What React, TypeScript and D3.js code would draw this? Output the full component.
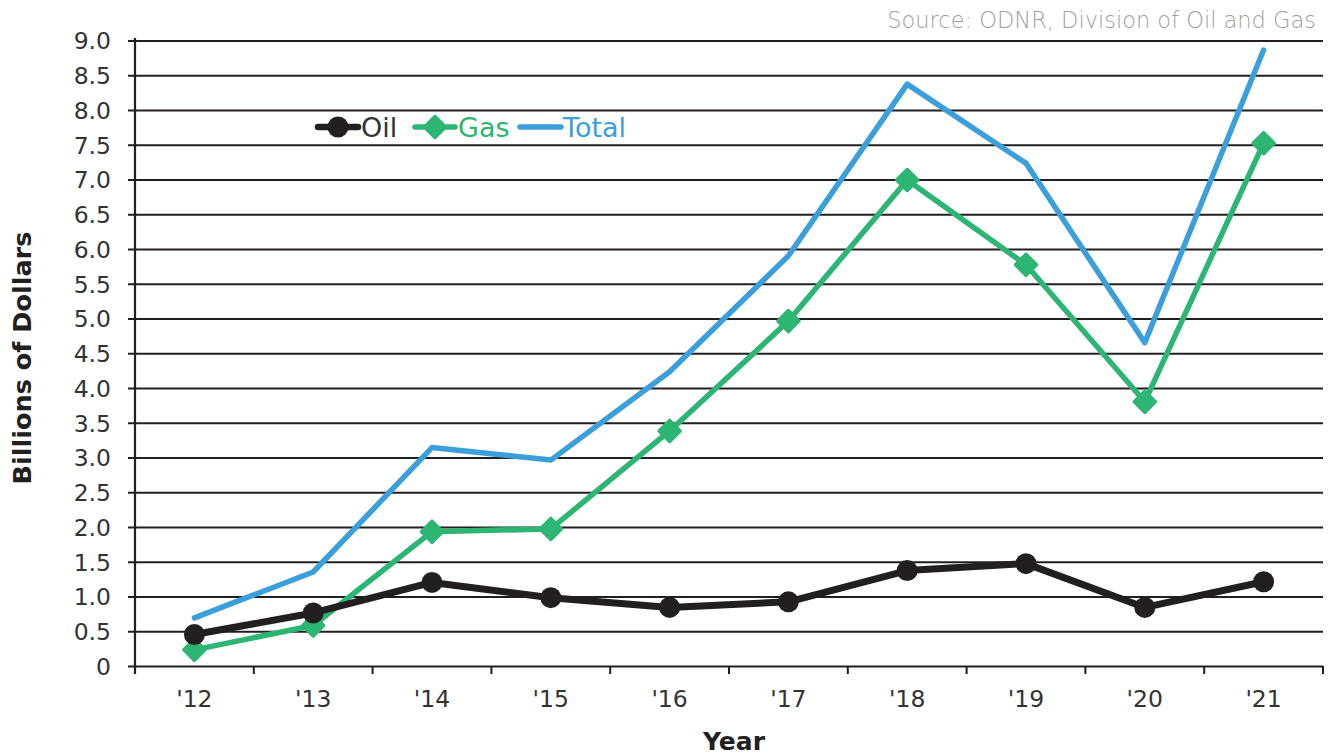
import React from "react";
import * as d3 from "d3";

const years = ["'12", "'13", "'14", "'15", "'16", "'17", "'18", "'19", "'20", "'21"];
const oil = [0.46, 0.77, 1.21, 0.99, 0.85, 0.93, 1.38, 1.48, 0.85, 1.22];
const gas = [0.24, 0.59, 1.94, 1.98, 3.39, 4.97, 7.0, 5.78, 3.81, 7.53];
const total = [0.7, 1.36, 3.15, 2.97, 4.24, 5.91, 8.38, 7.24, 4.66, 8.87];
const yTicks = [0, 0.5, 1, 1.5, 2, 2.5, 3, 3.5, 4, 4.5, 5, 5.5, 6, 6.5, 7, 7.5, 8, 8.5, 9];

const W = 1328;
const H = 755;
const FONT = "'DejaVu Sans', sans-serif";
const BLACK = "#231f20";
const GREEN = "#2db673";
const BLUE = "#3a9fdb";

export default function App() {
  const x = d3.scaleBand<string>().domain(years).range([135, 1323]);
  const y = d3.scaleLinear().domain([0, 9]).range([666.5, 41]);
  const cx = (i: number) => (x(years[i]) as number) + x.bandwidth() / 2;
  const line = d3
    .line<number>()
    .x((_, i) => cx(i))
    .y((d) => y(d))
    .curve(d3.curveLinear);
  const diamond = (px: number, py: number, r: number) =>
    `M${px},${py - r}L${px + r},${py}L${px},${py + r}L${px - r},${py}Z`;
  const xTickPos = years.map((_, i) => (x(years[i]) as number)).concat([1323]);

  return (
    <svg
      width={W}
      height={H}
      style={{ position: "absolute", left: 0, top: 0, background: "#fff" }}
      fontFamily={FONT}
    >
      <rect width={W} height={H} fill="#fff" />
      {/* gridlines */}
      {yTicks.map((t) => (
        <g key={t}>
          <line x1={128} x2={1323} y1={y(t)} y2={y(t)} stroke={BLACK} strokeWidth={t === 0 ? 2.2 : 2} />
          <text
            x={111}
            y={y(t)}
            dy="0.36em"
            textAnchor="end"
            fontSize={23.5}
            fill="#333"
          >
            {t === 0 ? "0" : t.toFixed(1)}
          </text>
        </g>
      ))}
      {/* axes */}
      <line x1={135} x2={135} y1={38} y2={674} stroke={BLACK} strokeWidth={2.2} />
      {xTickPos.map((p, i) => (
        <line key={i} x1={p} x2={p} y1={666} y2={674} stroke={BLACK} strokeWidth={2} />
      ))}
      {years.map((yr, i) => (
        <text key={yr} x={cx(i)} y={707} textAnchor="middle" fontSize={23.5} fill="#333">
          {yr}
        </text>
      ))}
      {/* series */}
      <path d={line(total) || ""} fill="none" stroke={BLUE} strokeWidth={5.5} strokeLinejoin="round" strokeLinecap="round" />
      <path d={line(gas) || ""} fill="none" stroke={GREEN} strokeWidth={5.5} strokeLinejoin="round" />
      {gas.map((v, i) => (
        <path key={i} d={diamond(cx(i), y(v), 10.5)} fill={GREEN} stroke={GREEN} strokeWidth={3.5} strokeLinejoin="round" />
      ))}
      <path d={line(oil) || ""} fill="none" stroke={BLACK} strokeWidth={7} strokeLinejoin="round" />
      {oil.map((v, i) => (
        <circle key={i} cx={cx(i)} cy={y(v)} r={10.5} fill={BLACK} />
      ))}
      {/* legend */}
      <g>
        <line x1={318} x2={358} y1={127} y2={127} stroke={BLACK} strokeWidth={6.5} strokeLinecap="round" />
        <circle cx={338} cy={127} r={10.5} fill={BLACK} />
        <text x={361} y={127} dy="0.36em" fontSize={27} fill="#333">
          Oil
        </text>
        <line x1={415} x2={455} y1={127} y2={127} stroke={GREEN} strokeWidth={5.5} strokeLinecap="round" />
        <path d={diamond(435, 127, 10.5)} fill={GREEN} stroke={GREEN} strokeWidth={3.5} strokeLinejoin="round" />
        <text x={458} y={127} dy="0.36em" fontSize={27} fill={GREEN}>
          Gas
        </text>
        <line x1={520} x2={561} y1={127} y2={127} stroke={BLUE} strokeWidth={5.5} strokeLinecap="round" />
        <text x={563} y={127} dy="0.36em" fontSize={27} fill={BLUE}>
          Total
        </text>
      </g>
      {/* titles */}
      <text x={1316} y={28} textAnchor="end" fontSize={22.5} fill="#a0a0a0" fontWeight={300}>
        Source: ODNR, Division of Oil and Gas
      </text>
      <text
        transform="translate(31,358) rotate(-90)"
        textAnchor="middle"
        fontSize={25.5}
        fontWeight="bold"
        fill={BLACK}
      >
        Billions of Dollars
      </text>
      <text x={734} y={750} textAnchor="middle" fontSize={25} fontWeight="bold" fill={BLACK}>
        Year
      </text>
    </svg>
  );
}
